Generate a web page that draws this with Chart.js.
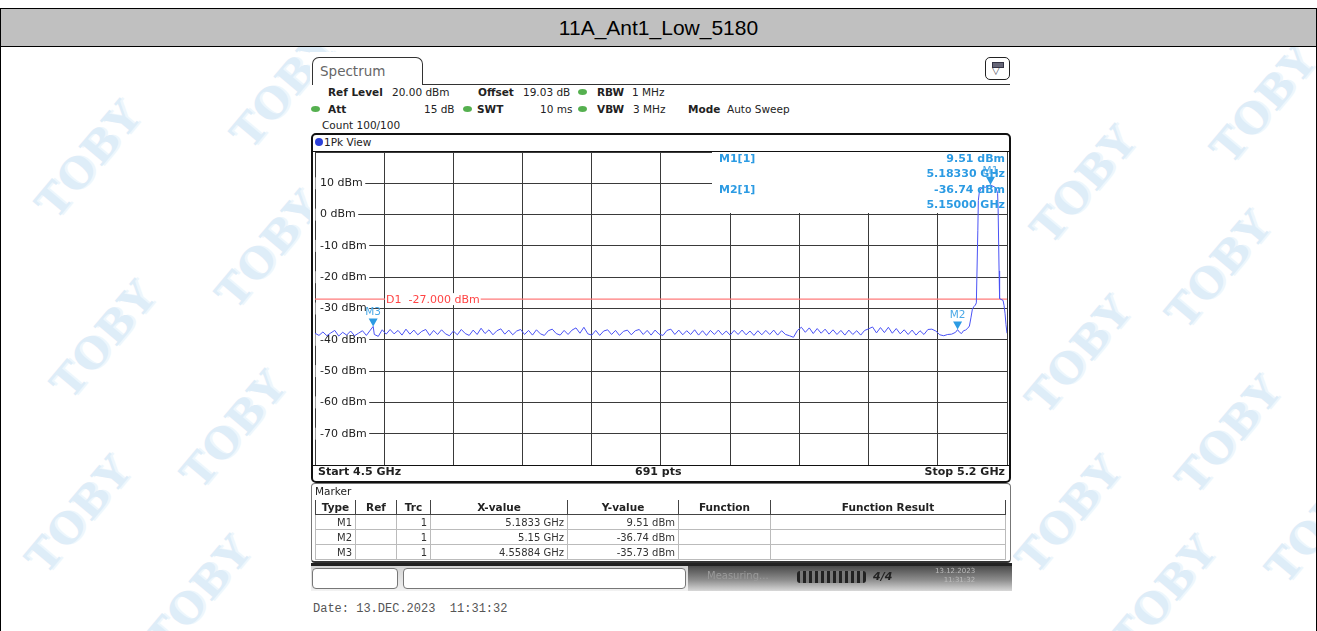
<!DOCTYPE html>
<html>
<head>
<meta charset="utf-8">
<title>11A_Ant1_Low_5180</title>
<script src="https://cdn.jsdelivr.net/npm/chart.js@4.4.1/dist/chart.umd.min.js"></script>
<style>
  body { margin:0; width:1317px; height:631px; overflow:hidden; background:#fff; position:relative;
         font-family:"DejaVu Sans", sans-serif; color:#222; }
  .abs { position:absolute; white-space:nowrap; }
  .wm { position:absolute; font:bold 42px "DejaVu Serif", serif; color:#deedf8; transform:rotate(-50deg);
        text-shadow:2px 2px 0 #eef6fc; letter-spacing:1px; }
  .hdr { position:absolute; font-size:10.5px; line-height:14px; white-space:nowrap; }
  .hdr b { font-weight:bold; }
  .dot { position:absolute; width:9px; height:6px; border-radius:50%; background:#55b04f; }
  #mtable { position:absolute; left:315px; top:500px; width:690px; border-collapse:collapse; font-size:10px; table-layout:fixed; }
  #mtable th { font-weight:bold; font-size:10.5px; height:14px; padding:0; border-left:1px solid #444; border-right:1px solid #444; border-bottom:1px solid #444; }
  #mtable td { height:14px; padding:0 3px; text-align:right; border:1px solid #bbb; color:#333; }
</style>
</head>
<body>

<!-- watermarks -->
<div class="wm" style="left:20px;top:135px">TOBY</div>
<div class="wm" style="left:215px;top:65px">TOBY</div>
<div class="wm" style="left:200px;top:225px">TOBY</div>
<div class="wm" style="left:35px;top:315px">TOBY</div>
<div class="wm" style="left:165px;top:405px">TOBY</div>
<div class="wm" style="left:10px;top:490px">TOBY</div>
<div class="wm" style="left:130px;top:570px">TOBY</div>
<div class="wm" style="left:1195px;top:80px">TOBY</div>
<div class="wm" style="left:1015px;top:160px">TOBY</div>
<div class="wm" style="left:1150px;top:245px">TOBY</div>
<div class="wm" style="left:1010px;top:330px">TOBY</div>
<div class="wm" style="left:1160px;top:410px">TOBY</div>
<div class="wm" style="left:1000px;top:490px">TOBY</div>
<div class="wm" style="left:1250px;top:500px">TOBY</div>
<div class="wm" style="left:1095px;top:570px">TOBY</div>

<!-- page frame and title -->
<div class="abs" style="left:0;top:8px;width:1317px;height:623px;border-left:1px solid #000;border-right:1px solid #000;box-sizing:border-box"></div>
<div class="abs" style="left:0;top:8px;width:1317px;height:39px;background:#c0c0c0;border:1px solid #000;box-sizing:border-box;
     font:21px 'Liberation Sans', Arial, sans-serif;text-align:center;line-height:37px;color:#000">11A_Ant1_Low_5180</div>

<!-- screenshot background -->
<div class="abs" style="left:310px;top:52px;width:703px;height:540px;background:#fff"></div>

<!-- tab -->
<div class="abs" style="left:312px;top:57px;width:111px;height:28px;border:1.5px solid #333;border-bottom:none;border-radius:7px 7px 0 0;box-sizing:border-box;background:#fff;
     font-size:13.5px;color:#666;padding:5px 0 0 7px">Spectrum</div>
<div class="abs" style="left:422px;top:83.5px;width:588px;height:0;border-top:1.5px solid #333"></div>
<div class="abs" style="left:985px;top:57px;width:25px;height:23px;border:1.5px solid #222;border-radius:5px;box-sizing:border-box;background:#fff">
  <div class="abs" style="left:6px;top:4px;width:10px;height:4px;background:#667;border:1px solid #334"></div>
  <div class="abs" style="left:6px;top:7px;font-size:10px;color:#334">&#9661;</div>
</div>

<!-- settings header -->
<div class="hdr" style="left:328px;top:85px"><b>Ref Level</b></div>
<div class="hdr" style="left:392px;top:85px">20.00 dBm</div>
<div class="hdr" style="left:478px;top:85px"><b>Offset</b></div>
<div class="hdr" style="left:523px;top:85px">19.03 dB</div>
<div class="dot" style="left:578px;top:89px"></div>
<div class="hdr" style="left:597px;top:85px"><b>RBW</b></div>
<div class="hdr" style="left:632px;top:85px">1 MHz</div>

<div class="dot" style="left:311px;top:106px"></div>
<div class="hdr" style="left:328px;top:102px"><b>Att</b></div>
<div class="hdr" style="left:424px;top:102px">15 dB</div>
<div class="dot" style="left:463px;top:106px"></div>
<div class="hdr" style="left:477px;top:102px"><b>SWT</b></div>
<div class="hdr" style="left:540px;top:102px">10 ms</div>
<div class="dot" style="left:578px;top:106px"></div>
<div class="hdr" style="left:597px;top:102px"><b>VBW</b></div>
<div class="hdr" style="left:633px;top:102px">3 MHz</div>
<div class="hdr" style="left:688px;top:102px"><b>Mode</b></div>
<div class="hdr" style="left:727px;top:102px">Auto Sweep</div>

<div class="hdr" style="left:322px;top:118px">Count 100/100</div>

<!-- diagram frame -->
<div class="abs" style="left:311px;top:133px;width:700px;height:350px;border:2px solid #111;border-radius:5px;box-sizing:border-box"></div>
<div class="abs" style="left:315px;top:138px;width:8px;height:8px;border-radius:50%;background:#2c3fd8"></div>
<div class="hdr" style="left:324px;top:135px;font-size:10.5px">1Pk View</div>
<canvas id="spec" width="694" height="315" style="position:absolute;left:314px;top:151px"></canvas>
<div class="abs" style="left:313px;top:151px;width:696px;height:0;border-top:1px solid #111"></div>
<div class="abs" style="left:313px;top:465px;width:696px;height:0;border-top:1.5px solid #111"></div>
<div class="hdr" style="left:318px;top:465px;font-size:11px;font-weight:bold">Start 4.5 GHz</div>
<div class="hdr" style="left:635px;top:465px;font-size:11px;font-weight:bold">691 pts</div>
<div class="hdr" style="left:918px;top:465px;width:87px;text-align:right;font-size:11px;font-weight:bold">Stop 5.2 GHz</div>

<!-- marker table -->
<div class="abs" style="left:311px;top:483px;width:700px;height:80px;border:1px solid #777;border-bottom:2px solid #333;border-radius:4px;box-sizing:border-box"></div>
<div class="hdr" style="left:315px;top:484px;font-size:10.5px">Marker</div>
<table id="mtable">
  <colgroup><col style="width:40px"><col style="width:41px"><col style="width:34px"><col style="width:137px"><col style="width:111px"><col style="width:92px"><col style="width:235px"></colgroup>
  <thead><tr><th>Type</th><th>Ref</th><th>Trc</th><th>X-value</th><th>Y-value</th><th>Function</th><th>Function Result</th></tr></thead>
  <tbody></tbody>
</table>

<!-- status bar -->
<div class="abs" style="left:311px;top:563px;width:701px;height:3px;background:#222"></div>
<div class="abs" style="left:311px;top:566px;width:701px;height:25px;background:linear-gradient(#d4d4d4,#f2f2f2)"></div>
<div class="abs" style="left:312px;top:568px;width:86px;height:21px;border:1px solid #777;border-radius:4px;box-sizing:border-box;background:#fff"></div>
<div class="abs" style="left:403px;top:568px;width:283px;height:21px;border:1px solid #777;border-radius:4px;box-sizing:border-box;background:#fff"></div>
<div class="abs" style="left:688px;top:566px;width:324px;height:25px;background:linear-gradient(#4a4a4a,#8c8c8c 55%,#d8d8d8)"></div>
<div class="abs" style="left:707px;top:570px;font-size:10px;color:#9a9a9a">Measuring...</div>
<div class="abs" style="left:797px;top:571px;width:69px;height:12px;border-radius:3px;background:repeating-linear-gradient(90deg,#222 0 3px,#777 3px 6px)"></div>
<div class="abs" style="left:873px;top:570px;font:bold 11px 'DejaVu Sans';color:#222;font-style:italic">4/4</div>
<div class="abs" style="left:935px;top:567px;font-size:7px;line-height:9px;color:#bbb;text-align:right">13.12.2023<br>11:31:32</div>

<div class="abs" style="left:313px;top:602px;font:12px 'Liberation Mono', monospace;color:#555">Date: 13.DEC.2023&nbsp; 11:31:32</div>

<script>
// sweep: 4.5 GHz .. 5.2 GHz, level axis -80 .. 20 dBm
const startFreq = 4.5;
const stopFreq = 5.2;
const refLevel = 20;
const bottomLevel = -80;
const levelLabels = [10, 0, -10, -20, -30, -40, -50, -60, -70];
const displayLine = -27.0;

// noise floor, read every 4 MHz from 4.500 to 5.148 GHz
const noiseStep = 0.004;
const noiseLevels = [
  -37.9, -38.6, -37.5, -38.7, -37.8, -37.0, -38.8, -37.6, -38.5, -37.2,
  -38.7, -37.9, -37.1, -38.6, -36.9, -38.3, -38.9, -36.8, -38.2, -36.7,
  -38.1, -37.0, -38.5, -36.6, -38.2, -36.9, -38.4, -37.3, -36.7, -38.6,
  -37.0, -38.3, -36.8, -38.1, -38.7, -37.2, -38.4, -36.7, -38.0, -38.6,
  -36.9, -38.3, -36.3, -38.0, -36.8, -38.4, -37.1, -36.5, -38.2, -36.9,
  -38.4, -37.2, -36.7, -38.3, -37.0, -38.5, -36.8, -38.1, -38.6, -37.1,
  -36.6, -38.0, -38.5, -37.0, -38.3, -36.9, -36.2, -37.9, -36.0, -38.1,
  -38.5, -37.0, -38.6, -37.2, -36.8, -38.3, -37.0, -38.6, -37.3, -36.9,
  -38.4, -37.1, -36.7, -38.3, -37.0, -38.5, -36.9, -38.2, -38.6, -37.0,
  -36.6, -38.3, -36.9, -38.4, -37.1, -38.3, -36.8, -38.5, -37.1, -38.6,
  -37.0, -38.3, -36.9, -38.4, -37.2, -38.5, -37.0, -38.3, -36.9, -38.4,
  -37.2, -38.6, -37.1, -38.4, -37.0, -38.3, -36.9, -38.5, -37.1, -38.3,
  -38.7, -39.2, -37.0, -36.0, -37.6, -36.2, -38.0, -36.4, -37.9, -36.6,
  -38.2, -36.8, -38.3, -37.0, -38.5, -36.9, -38.3, -37.1, -38.5, -37.0,
  -36.5, -35.9, -37.8, -36.1, -37.7, -36.0, -37.9, -36.4, -38.1, -36.8,
  -38.3, -36.9, -38.5, -37.1, -38.3, -36.7, -36.6, -37.2, -38.4, -38.7,
  -38.3, -38.2, -37.6
];

// channel at 5180 MHz and its skirts
const edgeFreqs = [5.152, 5.154, 5.156, 5.158, 5.160, 5.162, 5.1635, 5.165, 5.1665, 5.168, 5.169,
                   5.1705, 5.171, 5.172, 5.174, 5.176, 5.178, 5.180, 5.182, 5.185, 5.187, 5.189,
                   5.1905, 5.191, 5.192, 5.1925, 5.194, 5.196, 5.197, 5.198, 5.199, 5.200];
const edgeLevels = [-37.6, -38.0, -37.1, -36.9, -36.4, -35.6, -33.0, -30.2, -29.4, -28.9, -28.2,
                    -5.0, 4.5, 7.2, 8.4, 8.9, 8.7, 9.1, 9.3, 9.2, 8.9, 8.4,
                    6.8, 2.0, -18.0, -26.8, -27.1, -27.4, -29.0, -31.5, -35.2, -37.9];

// markers
const markerNames = ['M1', 'M2', 'M3'];
const markerFreqs = [5.1833, 5.15, 4.55884];
const markerLevels = [9.51, -36.74, -35.73];

const tracePoints = [];
noiseLevels.forEach((v, i) => tracePoints.push({ x: +(startFreq + i * noiseStep).toFixed(4), y: v }));
edgeFreqs.forEach((f, i) => tracePoints.push({ x: f, y: edgeLevels[i] }));
markerFreqs.forEach((f, i) => tracePoints.push({ x: f, y: markerLevels[i] }));
tracePoints.sort((a, b) => a.x - b.x);

// marker table
const tbody = document.querySelector('#mtable tbody');
markerNames.forEach((n, i) => {
  const row = `<tr><td>${n}</td><td></td><td>1</td><td>${markerFreqs[i]} GHz</td><td>${markerLevels[i].toFixed(2)} dBm</td><td></td><td></td></tr>`;
  tbody.insertAdjacentHTML('beforeend', row);
});

const markerBlue = '#2c9be3';

const overlay = {
  id: 'overlay',
  beforeDatasetsDraw(chart) {
    const { ctx, chartArea: a, scales: { x, y } } = chart;
    ctx.save();
    // marker info box hides the grid
    ctx.fillStyle = '#fff';
    ctx.fillRect(a.right - 295, a.top, 295, 61);

    // level labels inside the diagram
    ctx.font = '11px "DejaVu Sans"';
    ctx.textBaseline = 'middle';
    levelLabels.forEach(v => {
      const py = y.getPixelForValue(v);
      const txt = v + ' dBm';
      const w = ctx.measureText(txt).width;
      ctx.fillStyle = '#fff';
      ctx.fillRect(a.left + 0.5, py - 6, w + 7, 12);
      ctx.fillStyle = '#222';
      ctx.fillText(txt, a.left + 5, py);
    });

    // display line D1
    const dy = y.getPixelForValue(displayLine);
    ctx.strokeStyle = '#ff7b7b';
    ctx.lineWidth = 1.3;
    ctx.beginPath();
    ctx.moveTo(a.left, dy);
    ctx.lineTo(a.right, dy);
    ctx.stroke();
    ctx.font = '11px "DejaVu Sans"';
    const d1 = 'D1  -' + Math.abs(displayLine).toFixed(3) + ' dBm';
    const dw = ctx.measureText(d1).width;
    ctx.fillStyle = '#fff';
    ctx.fillRect(a.left + 70, dy - 6, dw + 2, 12);
    ctx.fillStyle = '#ff4444';
    ctx.fillText(d1, a.left + 71, dy + 1);
    ctx.restore();
  },
  afterDatasetsDraw(chart) {
    const { ctx, chartArea: a, scales: { x, y } } = chart;
    ctx.save();
    // marker triangles
    markerNames.forEach((n, i) => {
      const px = x.getPixelForValue(markerFreqs[i]);
      const py = y.getPixelForValue(markerLevels[i]);
      ctx.fillStyle = markerBlue;
      ctx.beginPath();
      ctx.moveTo(px - 4.5, py - 8);
      ctx.lineTo(px + 4.5, py - 8);
      ctx.lineTo(px, py);
      ctx.closePath();
      ctx.fill();
      ctx.font = '10.5px "DejaVu Sans"';
      ctx.textAlign = 'center';
      ctx.textBaseline = 'middle';
      ctx.fillStyle = '#4aa8e6';
      ctx.fillText(n, px, py - 14);
    });

    // marker readout
    ctx.font = 'bold 11px "DejaVu Sans"';
    ctx.textBaseline = 'middle';
    ctx.fillStyle = markerBlue;
    [0, 1].forEach(i => {
      const top = a.top + 7 + i * 31;
      ctx.textAlign = 'left';
      ctx.fillText(markerNames[i] + '[1]', a.right - 288, top);
      ctx.textAlign = 'right';
      ctx.fillText(markerLevels[i].toFixed(2) + ' dBm', a.right - 2, top);
      ctx.fillText(markerFreqs[i].toFixed(5) + ' GHz', a.right - 2, top + 15.5);
    });
    ctx.restore();
  }
};

new Chart(document.getElementById('spec'), {
  type: 'line',
  data: {
    datasets: [{
      data: tracePoints,
      borderColor: '#4a52f5',
      borderWidth: 1,
      pointRadius: 0,
      tension: 0
    }]
  },
  options: {
    responsive: false,
    animation: false,
    layout: { padding: 1 },
    plugins: { legend: { display: false }, tooltip: { enabled: false } },
    scales: {
      x: {
        type: 'linear', min: startFreq, max: stopFreq,
        ticks: { display: false, count: 11 },
        grid: { color: '#3a3a3a', lineWidth: 1, drawTicks: false },
        border: { display: false }
      },
      y: {
        min: bottomLevel, max: refLevel,
        ticks: { display: false, stepSize: 10 },
        grid: { color: '#3a3a3a', lineWidth: 1, drawTicks: false },
        border: { display: false }
      }
    }
  },
  plugins: [overlay]
});
</script>
</body>
</html>
